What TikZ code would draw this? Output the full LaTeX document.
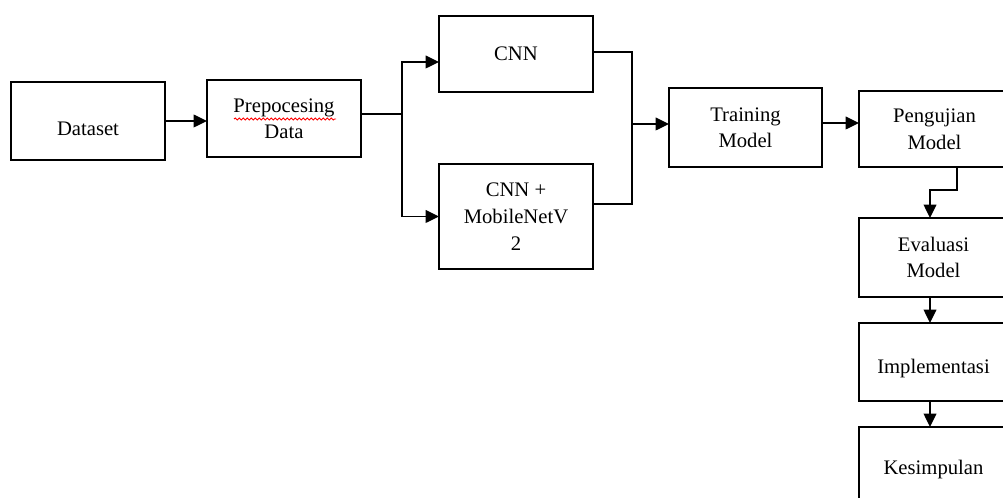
\documentclass[tikz,border=0pt]{standalone}
\usepackage{fontspec}
\setmainfont{Liberation Serif}
\usetikzlibrary{arrows.meta,decorations.pathmorphing}
\newlength\px
\setlength\px{0.75pt}
\begin{document}
\begin{tikzpicture}[x=0.75pt,y=-0.75pt,
  box/.style={draw=black,line width=1.1pt,inner sep=0pt,outer sep=0pt,align=center,
    font=\fontsize{15.5}{20}\selectfont,text depth=0pt},
  conn/.style={line width=1.1pt},
  arr/.style={conn,-{Triangle[length=10pt,width=9.5pt]}}]
\useasboundingbox (0,0) rectangle (1003,498);
\clip (0,0) rectangle (1003,498);
\node[box,minimum width=154\px,minimum height=78\px,text height=22pt] (dataset) at (88,121) {Dataset};
\node[box,minimum width=154\px,minimum height=77\px] (prep) at (284,118.5) {Prepocesing\\Data};
\node[box,minimum width=154\px,minimum height=76\px] (cnn) at (516,54) {CNN};
\node[box,minimum width=154\px,minimum height=105\px] (mob) at (516,216.5) {CNN +\\MobileNetV\\2};
\node[box,minimum width=153\px,minimum height=79\px] (train) at (745.5,127.5) {Training\\Model};
\node[box,minimum width=151\px,minimum height=76\px] (uji) at (934.5,129) {Pengujian\\Model};
\node[box,minimum width=149\px,minimum height=79\px] (eval) at (933.5,257.5) {Evaluasi\\Model};
\node[box,minimum width=149\px,minimum height=78\px,text height=18pt] (impl) at (933.5,362) {Implementasi};
\node[box,minimum width=149\px,minimum height=80\px] (kes) at (933.5,467) {Kesimpulan};
% spell-check squiggle
\coordinate (sq1) at (234,119);
\coordinate (sq2) at (336,119);
\draw[red,line width=0.7pt,decorate,decoration={snake,amplitude=0.7pt,segment length=3pt}] (sq1) -- (sq2);
% connectors
\coordinate (split) at (402,114);
\coordinate (c1) at (402,62);
\coordinate (m1) at (632,52);
\coordinate (m2) at (632,204);
\coordinate (merge) at (632,124);
\coordinate (d1) at (957,190);
\coordinate (d2) at (930,190);
\draw[arr] (dataset.east) -- (dataset.east -| prep.west);
\draw[conn] (split -| prep.east) -- (split);
\draw[arr] (split) -- (c1) -- (c1 -| cnn.west);
\draw[arr] (split) |- (mob.west);
\draw[conn] (m1 -| cnn.east) -- (m1) -- (m2) -- (m2 -| mob.east);
\draw[arr] (merge) -- (merge -| train.west);
\draw[arr] (train.east |- 0,123) -- (uji.west |- 0,123);
\draw[arr] (d1 |- uji.south) -- (d1) -- (d2) -- (d2 |- eval.north);
\draw[arr] (d2 |- eval.south) -- (d2 |- impl.north);
\draw[arr] (d2 |- impl.south) -- (d2 |- kes.north);
\end{tikzpicture}
\end{document}
